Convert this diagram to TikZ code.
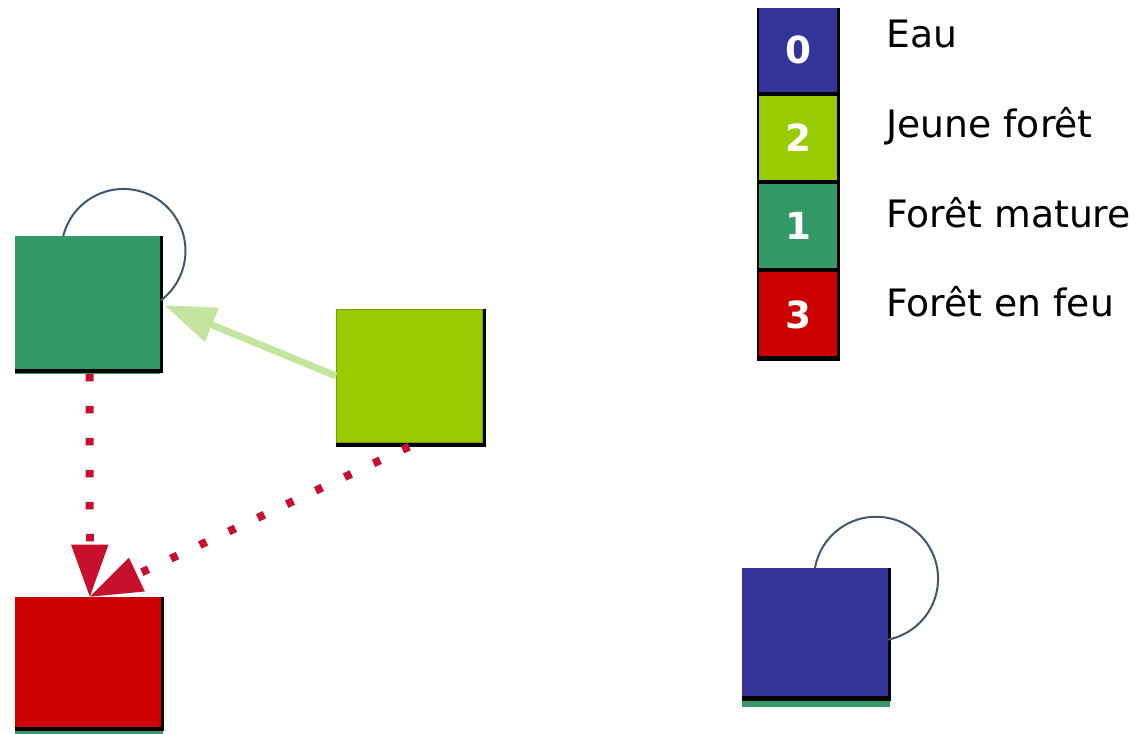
\documentclass[tikz,border=0pt]{standalone}
\usepackage{fontspec}
\setmainfont{DejaVu Sans}
\usetikzlibrary{arrows.meta,calc,backgrounds}
\definecolor{cwater}{HTML}{333399}
\definecolor{cyoung}{HTML}{99CC00}
\definecolor{cmature}{HTML}{339966}
\definecolor{cfire}{HTML}{CC0000}
\definecolor{cfirearrow}{HTML}{C8102E}
\definecolor{cgrowarrow}{HTML}{C4E5A0}
\definecolor{cloop}{HTML}{44546A}
\definecolor{colive}{HTML}{7A9A01}
\begin{document}
\begin{tikzpicture}[x=0.75pt,y=0.75pt,
  sq/.style={draw=none, inner sep=0pt, outer sep=0pt},
  cell/.style={draw=none, inner sep=0pt, outer sep=0pt, text=white,
    font=\bfseries\fontsize{28}{32}\selectfont,
    minimum width=58.5pt, minimum height=63pt},
  lab/.style={anchor=base west, inner sep=0pt, font=\fontsize{28.3}{34}\selectfont},
  selfloop/.style={draw=cloop, line width=1.5pt},
  growarrow/.style={draw=cgrowarrow, line width=5.25pt,
    -{Triangle[length=38pt,width=27.75pt,line width=0pt]}},
  firearrow/.style={draw=cfirearrow, line width=6pt, line cap=butt,
    dash pattern=on 5.5pt off 18.5pt,
    -{Triangle[length=39pt,width=28pt,line width=0pt]}}]
\useasboundingbox (0,0) rectangle (1141,734);

% state squares
\node[sq, fill=cmature, minimum width=108.75pt, minimum height=99.75pt] (gm) at (87.5,431.5) {};
\node[sq, fill=cyoung, draw=colive, line width=0.6pt, minimum width=109.7pt, minimum height=100pt] (lm) at (409.15,358) {};
\node[sq, fill=cfire, minimum width=109.3pt, minimum height=97.7pt] (rd) at (87.85,72.15) {};
\node[sq, fill=cwater, minimum width=109.5pt, minimum height=96pt] (bl) at (815,102) {};

\begin{scope}[on background layer]
  % shadows
  \fill[black] ($(gm.south west)+(0,-4)$) rectangle ($(gm.north east)+(3,0)$);
  \fill[cmature] ($(gm.south west)+(0,-5.5)$) rectangle ($(gm.south east)+(0,-4)$);
  \fill[black] ($(lm.south west)+(0,-4)$) rectangle ($(lm.north east)+(3.4,0)$);
  \fill[black] ($(rd.south west)+(0,-4)$) rectangle ($(rd.north east)+(3.3,0)$);
  \fill[cmature] ($(rd.south west)+(0,-8)$) rectangle ($(rd.south east)+(2,-4)$);
  \fill[black] ($(bl.south west)+(0,-5)$) rectangle ($(bl.north east)+(3,0)$);
  \fill[cmature] ($(bl.south west)+(0,-11)$) rectangle ($(bl.south east)+(2,-5)$);
  % self loops
  \draw[selfloop] (gm.110) arc[start angle=166, end angle=-53, radius=62];
  \draw[selfloop] (bl.north) arc[start angle=170, end angle=-80, radius=62];
\end{scope}

% transitions
\draw[growarrow] (lm.west) -- ($(gm.east)+(5,-3)$);
\draw[firearrow] ($(gm.south)+(2,-5)$) -- ($(rd.north)+(2,0)$);
\draw[firearrow] ($(lm.south)+(0,-4)$) -- ($(rd.north)+(2,0)$);

% legend
\fill[black] (757,373) rectangle (840,726);
\node[cell, fill=cwater]  (l0) at (798,684) {0};
\node[cell, fill=cyoung]  (l2) at (798,596) {2};
\node[cell, fill=cmature] (l1) at (798,508) {1};
\node[cell, fill=cfire]   (l3) at (798,419.5) {3};

\node[lab] (t0) at (886,686) {Eau};
\node[lab] (t2) at (886,596) {Jeune forêt};
\node[lab] (t1) at (886,506) {Forêt mature};
\node[lab] (t3) at (886,417) {Forêt en feu};
\end{tikzpicture}
\end{document}
